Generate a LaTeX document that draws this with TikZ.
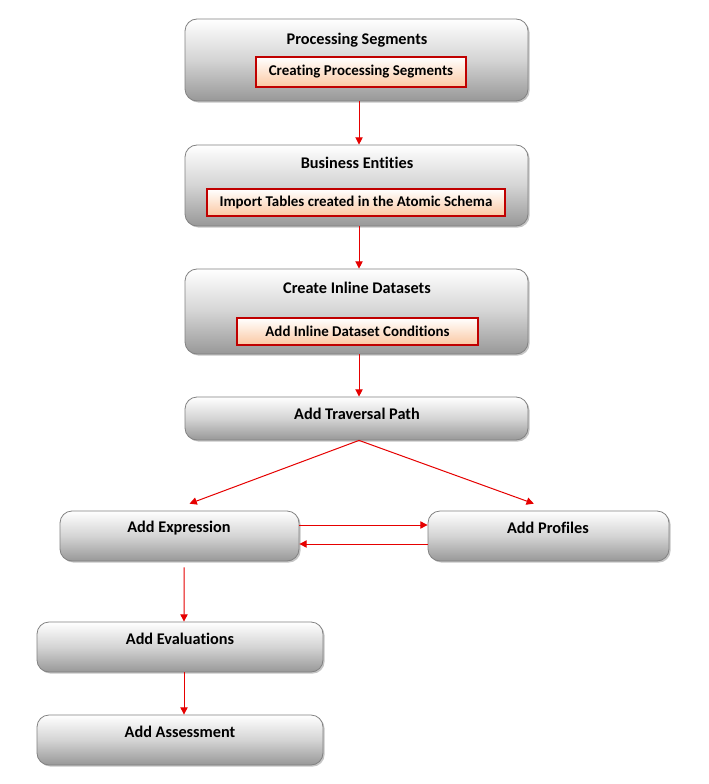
\documentclass[tikz,border=0pt]{standalone}
\usepackage{fontspec}
\setmainfont[Ligatures=NoCommon]{Carlito}
\usetikzlibrary{arrows.meta,shadows}
\definecolor{boxbot}{RGB}{152,152,152}
\definecolor{boxmid}{RGB}{212,212,212}
\definecolor{boxline}{RGB}{130,130,130}
\definecolor{innerbot}{RGB}{251,200,162}
\definecolor{innerline}{RGB}{192,0,0}
\definecolor{arrowred}{RGB}{230,0,0}
\tikzset{
  bigbox/.style={draw=boxline, line width=0.6pt, rounded corners=9pt,
    top color=white, bottom color=boxbot, middle color=boxmid,
    drop shadow={shadow xshift=1.2pt, shadow yshift=-1.2pt, opacity=0.45},
    inner sep=0pt},
  innerbox/.style={draw=innerline, line width=0.8pt,
    top color=white, bottom color=innerbot,
    drop shadow={shadow xshift=1pt, shadow yshift=-1pt, opacity=0.35},
    inner sep=0pt, font=\bfseries\fontsize{11.2}{13}\selectfont},
  lbl/.style={font=\bfseries\fontsize{12.2}{14}\selectfont, inner sep=0pt},
  conn/.style={draw=arrowred, line width=0.75pt,
    -{Triangle[width=5.5pt,length=5.5pt]}}
}
\begin{document}
\begin{tikzpicture}[x=0.75pt,y=-0.75pt]
\path[use as bounding box, fill=white] (0,0) rectangle (708,784);

% big boxes
\node[bigbox, minimum width=343*0.75pt, minimum height=82*0.75pt] (ps) at (356.5,60) {};
\node[bigbox, minimum width=343*0.75pt, minimum height=81*0.75pt] (be) at (356.5,185.5) {};
\node[bigbox, minimum width=343*0.75pt, minimum height=85*0.75pt] (cid) at (356.5,311.5) {};
\node[bigbox, minimum width=343*0.75pt, minimum height=43*0.75pt] (atp) at (356.5,418.5) {};
\node[bigbox, minimum width=239*0.75pt, minimum height=50*0.75pt] (expr) at (179.5,536) {};
\node[bigbox, minimum width=241*0.75pt, minimum height=50*0.75pt] (prof) at (548.5,536) {};
\node[bigbox, minimum width=286*0.75pt, minimum height=50*0.75pt] (eval) at (180,647) {};
\node[bigbox, minimum width=286*0.75pt, minimum height=50*0.75pt] (asmt) at (180,740) {};

% titles
\node[lbl] (pst) at (357,40) {Processing Segments};
\node[lbl] (bet) at (357,163) {Business Entities};
\node[lbl] (cidt) at (357,288) {Create Inline Datasets};
\node[lbl] (atpt) at (357,414) {Add Traversal Path};
\node[lbl] (exprt) at (179,528) {Add Expression};
\node[lbl] (proft) at (548,528) {Add Profiles};
\node[lbl] (evalt) at (180,639) {Add Evaluations};
\node[lbl] (asmtt) at (180,732) {Add Assessment};

% inner boxes
\node[innerbox, minimum width=210*0.75pt, minimum height=30*0.75pt] (psi) at (361,72) {Creating Processing Segments};
\node[innerbox, minimum width=298*0.75pt, minimum height=27*0.75pt] (bei) at (356,202.5) {Import Tables created in the Atomic Schema};
\node[innerbox, minimum width=241*0.75pt, minimum height=27*0.75pt] (cidi) at (357.5,331.5) {Add Inline Dataset Conditions};

% connectors
\draw[conn] ([xshift=1.9pt]ps.south) -- ([xshift=1.9pt]be.north);
\draw[conn] ([xshift=1.9pt]be.south) -- ([xshift=1.9pt]cid.north);
\draw[conn] ([xshift=1.9pt]cid.south) -- ([xshift=1.9pt]atp.north);
\draw[conn] ([xshift=1.9pt]atp.south) -- ([xshift=7.5pt,yshift=5.2pt]expr.north);
\draw[conn] ([xshift=1.9pt]atp.south) -- ([xshift=-11pt,yshift=5.2pt]prof.north);
\draw[conn] ([yshift=8.25pt]expr.east) -- ([yshift=8.25pt]prof.west);
\draw[conn] ([yshift=-6pt]prof.west) -- ([yshift=-6pt]expr.east);
\draw[conn] ([xshift=3.4pt,yshift=-4.5pt]expr.south) -- ([xshift=3pt]eval.north);
\draw[conn] ([xshift=3pt]eval.south) -- ([xshift=3pt]asmt.north);
\end{tikzpicture}
\end{document}
